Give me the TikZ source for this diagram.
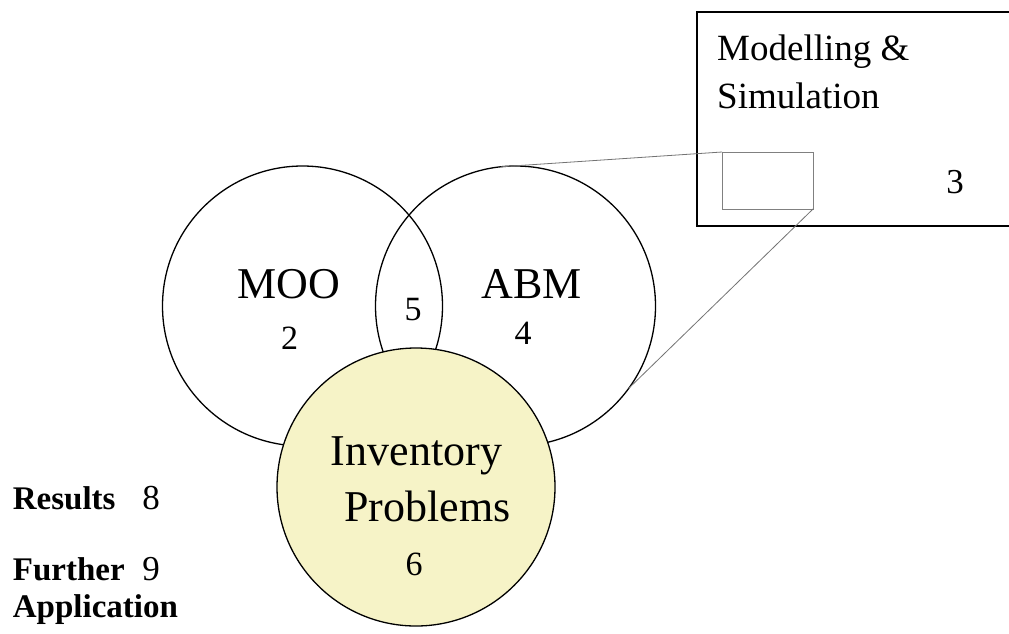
\documentclass[tikz,border=0pt]{standalone}
\usepackage{fontspec}
\setmainfont{Liberation Serif}
\definecolor{invfill}{RGB}{246,243,199}
\tikzset{
  x=1pt, y=-1pt,
  venn/.style={circle, draw=black, line width=1.3pt, inner sep=0pt, outer sep=0pt, minimum size=280pt},
  lbl/.style={anchor=base, inner sep=0pt, font=\fontsize{44}{50}\selectfont},
  num/.style={anchor=base, inner sep=0pt, font=\fontsize{34}{40}\selectfont},
  side/.style={anchor=base west, inner sep=0pt, font=\fontsize{33}{40}\selectfont\bfseries},
  boxlbl/.style={anchor=base west, inner sep=0pt, font=\fontsize{37}{44}\selectfont},
  zoomline/.style={draw=black!55, line width=0.8pt},
}
\begin{document}
\begin{tikzpicture}
\useasboundingbox[fill=white] (0,0) rectangle (1009,633);

% Venn circles
\node[venn, minimum size=280pt] (moo) at (302.5,306) {};
\node[venn, minimum size=280pt] (abm) at (515.5,306) {};
\node[venn, fill=invfill, minimum size=278pt] (inv) at (416,487) {};

% circle labels
\node[lbl] (moot) at (289,298) {MOO};
\node[num] (moon) at (289.5,349) {2};
\node[num] (lens) at (413,320) {5};
\node[lbl] (abmt) at (531.5,298) {ABM};
\node[num] (abmn) at (523,344) {4};
\node[lbl] (invA) at (416.5,465) {Inventory};
\node[lbl] (invB) at (427.5,521) {Problems};
\node[num] (invn) at (414,575) {6};

% Modelling & Simulation box
\node[draw=black, line width=2pt, inner sep=0pt, outer sep=0pt, anchor=north west,
      minimum width=320pt, minimum height=214pt] (ms) at (697,12) {};
\node[boxlbl] (msA) at (717,60) {Modelling \&};
\node[boxlbl] (msB) at (717,108) {Simulation};
\node[num, font=\fontsize{35}{40}\selectfont] (msn) at (955,193) {3};

% zoomed region and its guide lines
\node[draw=black!50, line width=1pt, inner sep=0pt, outer sep=0pt, anchor=north west,
      minimum width=91pt, minimum height=57pt] (zr) at (722,152) {};
\draw[zoomline] (abm.96) -- (zr.north west);
\draw[zoomline] (abm.-36) -- (zr.south east);

% side notes
\node[side] (res) at (12.7,509) {Results};
\node[num, font=\fontsize{35}{40}\selectfont] (resn) at (151,509) {8};
\node[side] (fur) at (12.7,580) {Further};
\node[num, font=\fontsize{35}{40}\selectfont] (furn) at (151,580) {9};
\node[side] (app) at (12.7,617) {Application};
\end{tikzpicture}
\end{document}
